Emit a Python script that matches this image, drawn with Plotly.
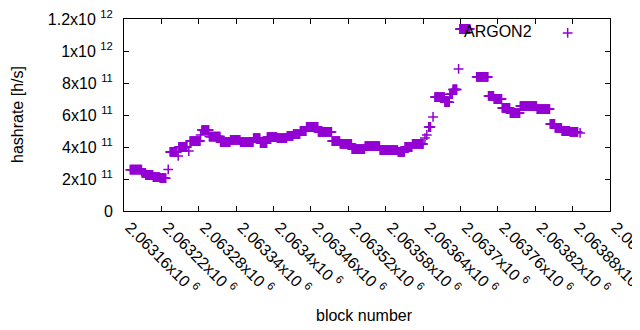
import plotly.graph_objects as go

# Run-length encoded per-block hashrate data (first block, last block, hashrate)
run_start = [2063170, 2063189, 2063195, 2063207, 2063218, 2063231, 2063234, 2063247, 2063248, 2063264,
             2063266, 2063283, 2063285, 2063297, 2063315, 2063331, 2063347, 2063368, 2063379, 2063390,
             2063406, 2063422, 2063432, 2063443, 2063453, 2063472, 2063494, 2063507, 2063526, 2063547,
             2063571, 2063600, 2063611, 2063623, 2063643, 2063646, 2063649, 2063656, 2063659, 2063675,
             2063683, 2063688, 2063697, 2063699, 2063726, 2063745, 2063754, 2063767, 2063780, 2063796,
             2063823, 2063844, 2063852, 2063863, 2063876, 2063892]
run_end = [2063188, 2063194, 2063206, 2063217, 2063227, 2063231, 2063245, 2063247, 2063261, 2063264,
           2063282, 2063283, 2063296, 2063314, 2063330, 2063346, 2063367, 2063378, 2063389, 2063405,
           2063421, 2063431, 2063442, 2063452, 2063471, 2063493, 2063506, 2063525, 2063546, 2063570,
           2063599, 2063610, 2063622, 2063640, 2063643, 2063646, 2063652, 2063656, 2063674, 2063682,
           2063687, 2063694, 2063697, 2063715, 2063744, 2063753, 2063766, 2063779, 2063795, 2063822,
           2063843, 2063851, 2063862, 2063875, 2063888, 2063892]
run_hashrate = [2.58e11, 2.38e11, 2.25e11, 2.12e11, 2.05e11, 2.6e11, 3.69e11, 3.44e11, 4.0e11, 3.75e11,
                4.37e11, 4.75e11, 5.06e11, 4.65e11, 4.3e11, 4.44e11, 4.3e11, 4.56e11, 4.25e11, 4.62e11,
                4.56e11, 4.69e11, 4.81e11, 5.0e11, 5.25e11, 4.94e11, 4.37e11, 4.19e11, 3.87e11, 4.06e11,
                3.81e11, 3.69e11, 4.0e11, 4.19e11, 4.56e11, 4.75e11, 5.25e11, 5.88e11, 7.12e11, 6.8e11,
                7.3e11, 7.6e11, 8.88e11, 1.1375e12, 8.38e11, 7.19e11, 7.0e11, 6.44e11, 6.12e11, 6.56e11,
                6.37e11, 5.44e11, 5.19e11, 5.0e11, 4.94e11, 4.88e11]

x_tick_vals = [2063160, 2063220, 2063280, 2063340, 2063400, 2063460, 2063520,
               2063580, 2063640, 2063700, 2063760, 2063820, 2063880, 2063940]
x_tick_text = ["2.06316x10 <sup>6</sup>", "2.06322x10 <sup>6</sup>", "2.06328x10 <sup>6</sup>",
               "2.06334x10 <sup>6</sup>", "2.0634x10 <sup>6</sup>", "2.06346x10 <sup>6</sup>",
               "2.06352x10 <sup>6</sup>", "2.06358x10 <sup>6</sup>", "2.06364x10 <sup>6</sup>",
               "2.0637x10 <sup>6</sup>", "2.06376x10 <sup>6</sup>", "2.06382x10 <sup>6</sup>",
               "2.06388x10 <sup>6</sup>", "2.06394x10 <sup>6</sup>"]
y_tick_vals = [0, 2e11, 4e11, 6e11, 8e11, 1e12, 1.2e12]
y_tick_text = ["0", "2x10 <sup>11</sup>", "4x10 <sup>11</sup>", "6x10 <sup>11</sup>",
               "8x10 <sup>11</sup>", "1x10 <sup>12</sup>", "1.2x10 <sup>12</sup>"]

blocks, hashrate = [], []
for s, e, v in zip(run_start, run_end, run_hashrate):
    for b in range(s, e + 1):
        blocks.append(b)
        hashrate.append(v)

PURPLE = "#9400D3"
FONT = "Liberation Sans, Arial, sans-serif"

fig = go.Figure()
fig.add_trace(go.Scatter(
    x=blocks, y=hashrate, mode="markers", name="",
    marker=dict(symbol="cross-thin", size=7, color=PURPLE,
                line=dict(color=PURPLE, width=1.5)),
    showlegend=True,
))

axis_common = dict(showline=True, linecolor="black", linewidth=1, mirror="ticks",
                   ticks="inside", ticklen=5, tickcolor="black", showgrid=False,
                   zeroline=False, automargin=False, ticklabeloverflow="allow",
                   tickfont=dict(family=FONT, size=16, color="black"))

# page body has an 8px margin, so the figure is placed 8px right/down
W, H = 632, 322
L, T = 116, 11
R = W - (610 - 8)
B = H - (211 - 8)
plot_w, plot_h = W - L - R, H - T - B

fig.update_layout(
    width=W, height=H,
    margin=dict(l=L, r=R, t=T, b=B, autoexpand=False),
    paper_bgcolor="white", plot_bgcolor="white",
    font=dict(family=FONT, size=16, color="black"),
    xaxis=dict(range=[2063160, 2063940], tickvals=x_tick_vals, ticktext=x_tick_text,
               tickangle=45, ticklabelshift=6, **axis_common),
    yaxis=dict(range=[0, 1.2e12], tickvals=y_tick_vals, ticktext=y_tick_text,
               ticklabelstandoff=7, **axis_common),
    legend=dict(x=(601 - 124) / plot_w, y=1.0 + 3 / plot_h, xanchor="right", yanchor="top",
                bgcolor="rgba(0,0,0,0)", itemwidth=46,
                title=dict(text="ARGON2", side="left", font=dict(family=FONT, size=16)),
                font=dict(family=FONT, size=16)),
    annotations=[
        dict(text="hashrate [h/s]", x=(17 - 124) / plot_w, y=(211 - 115) / plot_h,
             xref="paper", yref="paper", showarrow=False, xanchor="center", yanchor="middle",
             textangle=-90, font=dict(family=FONT, size=16)),
        dict(text="block number", x=(364 - 124) / plot_w, y=(211 - 315) / plot_h,
             xref="paper", yref="paper", showarrow=False, xanchor="center", yanchor="middle",
             font=dict(family=FONT, size=16)),
    ],
)

fig.write_html("out.html")
